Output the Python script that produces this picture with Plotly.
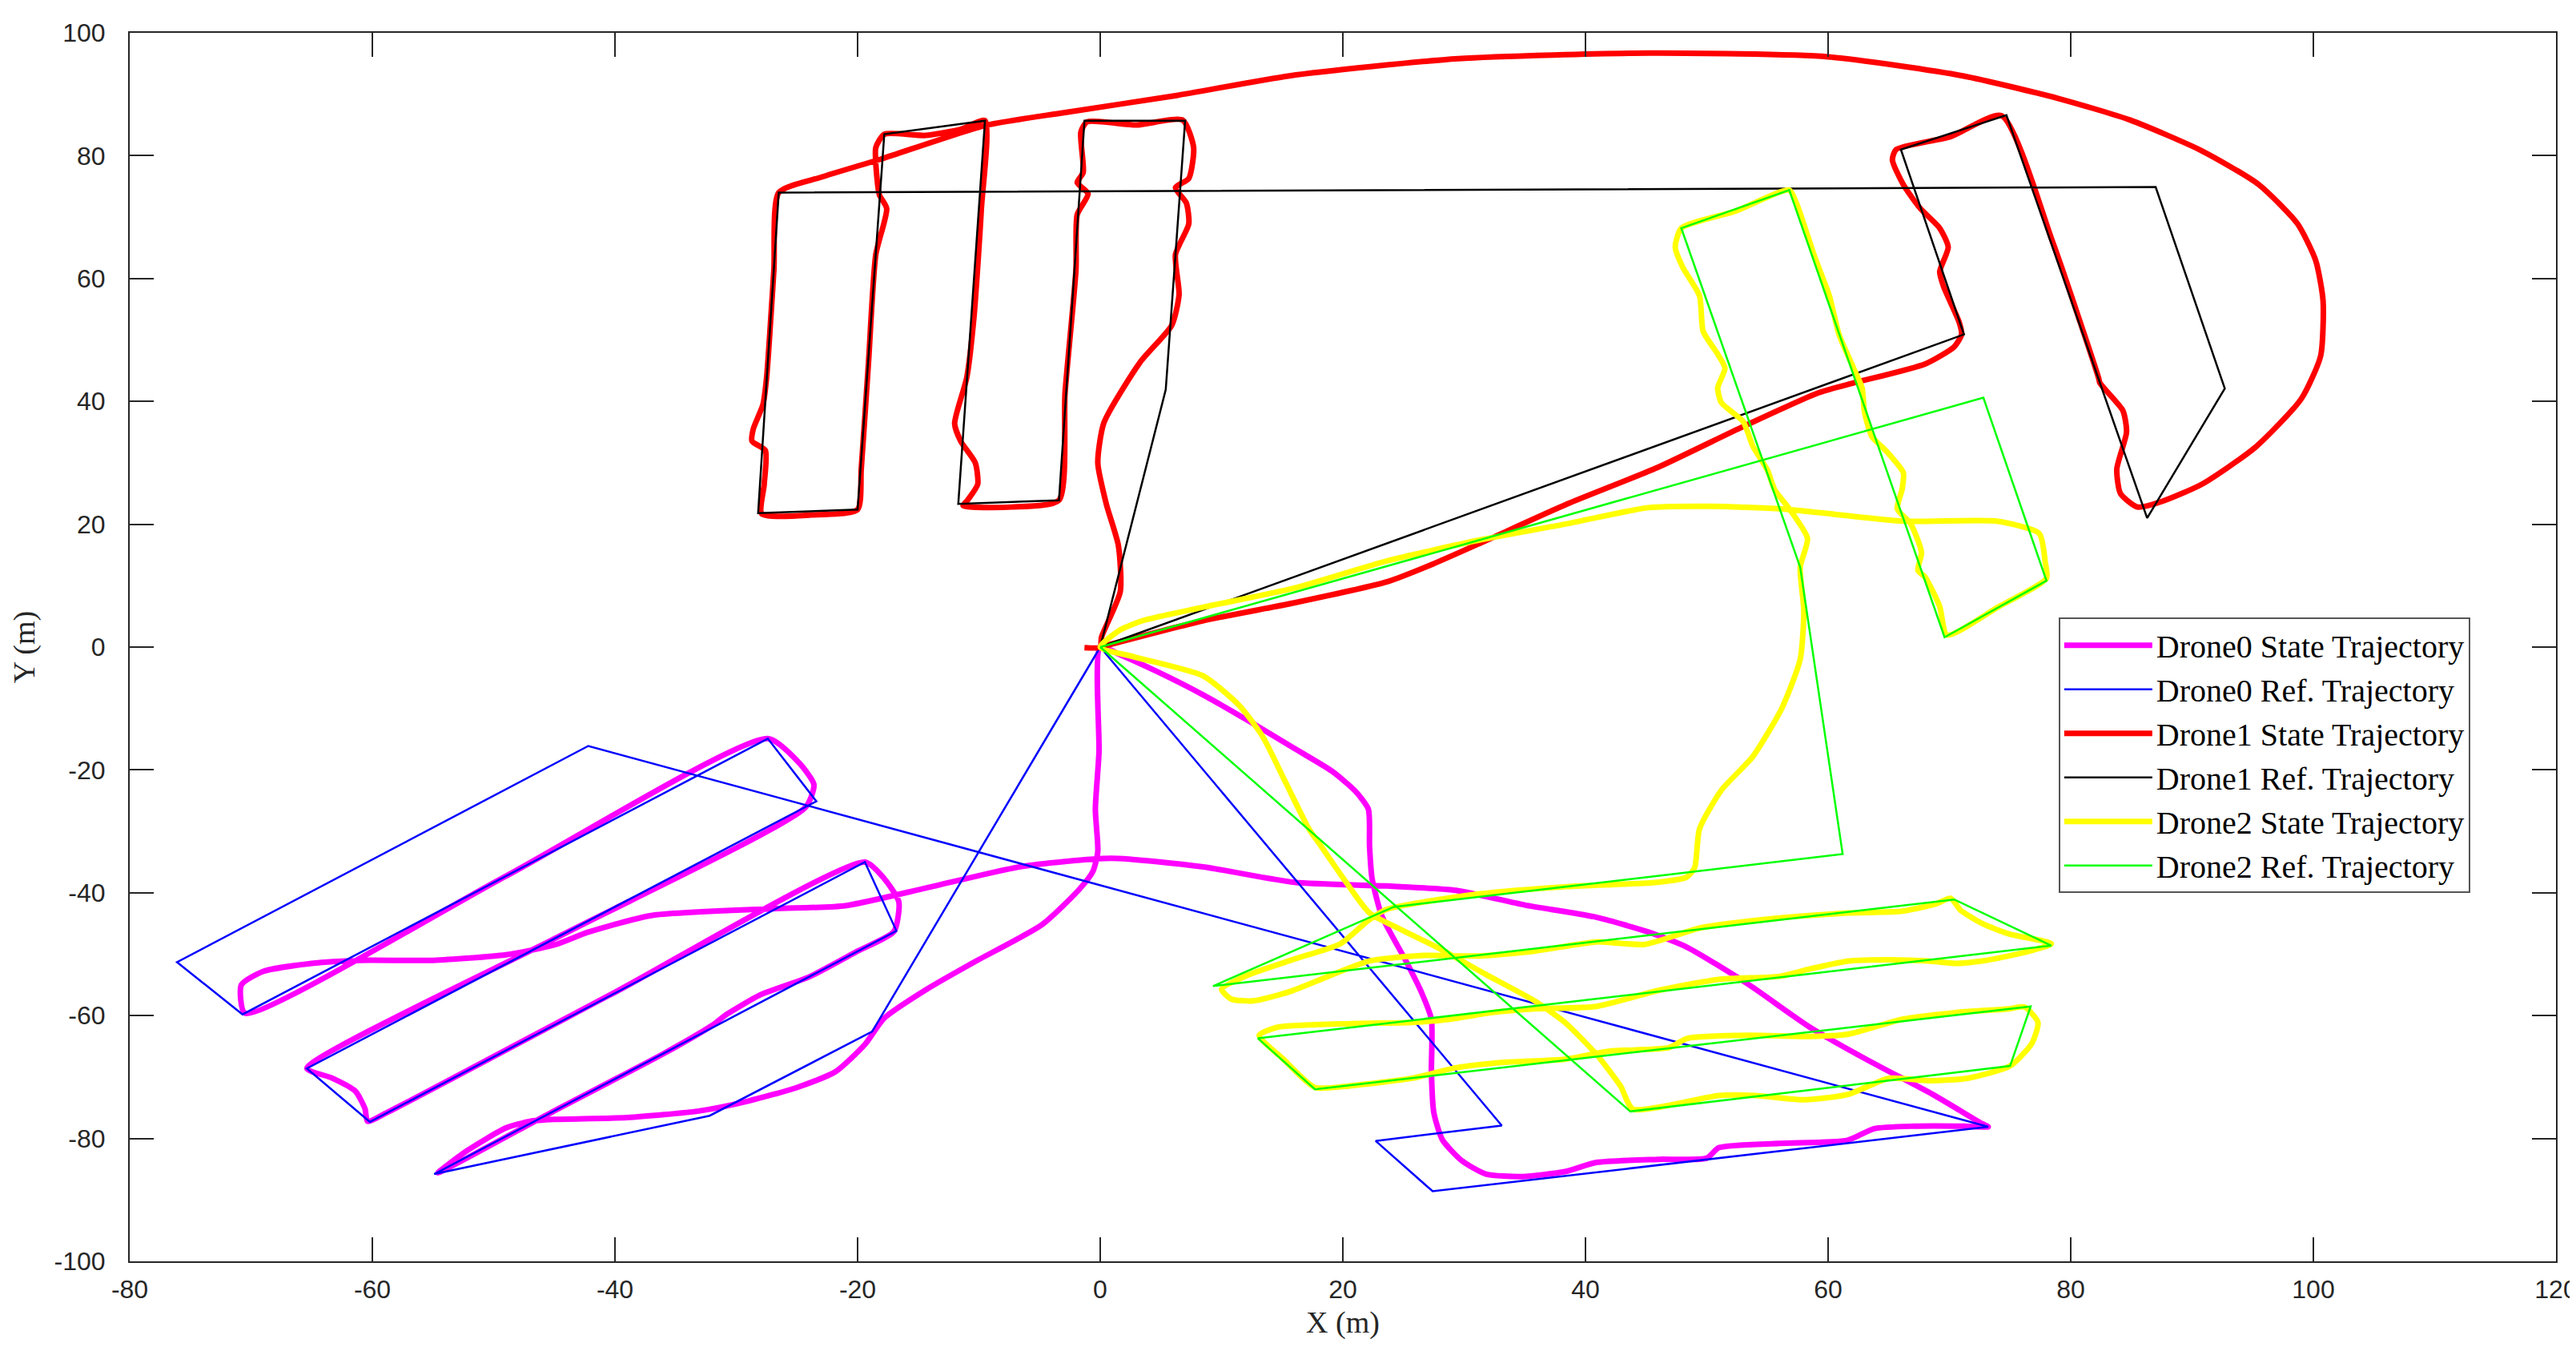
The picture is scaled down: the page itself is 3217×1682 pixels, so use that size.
import plotly.graph_objects as go

# ---- Drone0 (magenta state / blue reference) ----
D0_REF_X = [0, -18.8, -32.2, -54.9, -16.8, -19.4, -60.2, -65.4, -23.4, -27.4, -70.7, -76.1, -42.2, 73.2, 27.4, 22.7, 33.1, 0]
D0_REF_Y = [0, -62.6, -76.3, -85.8, -46.2, -35.0, -77.3, -68.6, -25.1, -14.9, -59.8, -51.3, -16.1, -78.1, -88.6, -80.4, -77.9, 0]

D0_STATE_X = [0, -0.1, -0.4, -0.2, -0.6, -1.8, -4.8, -10.5, -14.3, -17.8, -19.4, -21.8, -25.0, -29.0, -33.0, -39.0,
              -45.0, -47.0, -49.0, -52.2, -54.6, -45.0, -36.0, -32.0, -30.8, -28.0, -24.0, -20.0, -17.0, -16.6, -17.8,
              -19.4, -40.0, -58.8, -60.4, -60.6, -61.4, -63.4, -65.4, -44.4, -24.3, -23.6, -24.8, -27.4, -49.0, -70.5,
              -70.8, -69.0, -65.0, -61.0, -55.0, -49.0, -45.0, -42.2, -37.0, -27.0, -21.0, -14.3, -6.7, 0.9, 8.5, 16.0,
              23.6, 29.3, 35.0, 40.7, 45.2, 48.4, 53.5, 58.5, 63.6, 68.6, 72.7, 73.2, 71.2, 67.1, 63.8, 61.6, 56.0, 51.0,
              50.0, 46.0, 40.9, 38.3, 34.8, 31.8, 29.8, 28.2, 27.5, 27.3, 27.3, 26.5, 25.2, 23.2, 22.4, 22.2, 22.1, 21.0,
              19.1, 16.0, 12.3, 8.5, 4.7, 1.7, 0]
D0_STATE_Y = [0, -17.1, -26.4, -33.3, -36.5, -39.6, -45.2, -51.4, -55.7, -60.4, -64.7, -69.1, -71.7, -73.9, -75.5, -76.6,
              -76.9, -77.2, -78.3, -82.0, -85.6, -75.5, -66.2, -61.6, -59.8, -56.6, -53.7, -49.5, -46.3, -41.5, -37.7,
              -35.0, -56.2, -75.8, -77.2, -75.2, -72.3, -70.1, -68.6, -46.9, -26.1, -22.4, -18.9, -14.9, -37.3, -59.6,
              -55.0, -52.8, -51.5, -51.0, -51.0, -50.1, -48.5, -46.4, -43.7, -42.6, -42.1, -39.2, -35.8, -34.4, -35.8, -38.3,
              -38.9, -39.6, -42.0, -43.9, -46.4, -48.9, -55.0, -61.9, -67.6, -72.8, -77.6, -78.1, -78.0, -78.0, -78.4, -80.3, -80.8, -81.5,
              -83.2, -83.4, -83.9, -85.4, -86.2, -85.8, -83.6, -80.2, -75.8, -69.3, -60.6, -56.3, -51.1, -43.7, -37.6, -32.4, -26.4, -23.4,
              -20.2, -16.5, -12.1, -7.8, -4.0, -1.3, 0]

# ---- Drone1 (red state / black reference) ----
D1_REF_X = [0, 71.2, 66.0, 74.7, 86.3, 92.7, 87.0, -26.5, -28.2, -20.0, -17.8, -9.5, -11.7, -3.4, -1.3, 7.0, 5.4, 0]
D1_REF_Y = [0, 50.9, 81.0, 86.6, 21.0, 42.1, 74.9, 74.0, 21.8, 22.4, 83.5, 85.7, 23.3, 23.9, 85.7, 85.7, 41.9, 0]

D1_STATE_X = [0, 8.5, 16.0, 23.6, 27.4, 31.2, 38.5, 45.9, 53.0, 59.2, 62.1, 68.0, 70.4, 71.0, 70.8, 69.5, 69.2, 69.9,
              69.2, 67.6, 66.2, 65.3, 65.6, 70.1, 74.3, 78.5, 82.3, 82.4, 84.3, 84.6, 83.8, 84.1, 85.5, 87.5, 90.8, 95.2,
              99.0, 100.6, 100.8, 100.2, 98.7, 95.5, 90.8, 84.9, 79.0, 71.1, 60.0, 45.2, 29.5, 15.6, 6.3, -3.0, -9.5,
              -18.0, -23.0, -26.5, -26.9, -27.5, -27.8, -28.6, -28.7, -27.6, -27.7, -27.9, -23.8, -20.0, -19.7, -19.1,
              -18.5, -17.6, -18.2, -18.4, -18.5, -17.8, -14.4, -11.5, -9.5, -9.8, -10.4, -11.0, -12.0, -11.5, -10.3,
              -10.1, -10.9, -11.3, -7.3, -3.4, -2.9, -2.0, -1.9, -1.0, -1.9, -1.4, -1.6, -1.1, 3.0, 6.8, 7.7, 7.3, 6.2,
              7.1, 7.3, 6.2, 6.5, 5.9, 3.3, 0.3, -0.2, 0.5, 1.5, 1.65, 0.1, 0, -1.3]
D1_STATE_Y = [0, 4.3, 7.2, 10.6, 13.5, 16.8, 23.3, 29.2, 35.9, 41.4, 43.0, 46.1, 48.9, 50.9, 52.9, 58.8, 61.1, 65.1,
              68.2, 71.4, 75.3, 79.3, 81.0, 83.1, 86.5, 66.0, 43.8, 43.0, 38.5, 35.0, 29.0, 25.0, 22.8, 23.7, 26.5, 32.5,
              40.4, 47.4, 56.4, 62.9, 68.9, 75.3, 80.8, 85.8, 89.3, 93.0, 96.1, 96.7, 95.8, 93.0, 89.8, 87.0, 84.9,
              79.5, 76.5, 74.0, 61.4, 43.9, 39.5, 35.5, 33.5, 32.0, 26.5, 21.7, 21.5, 22.4, 29.0, 46.4,
              63.9, 71.4, 73.6, 76.3, 81.3, 83.5, 83.3, 84.3, 85.7, 71.3, 53.9, 43.9, 36.4, 33.5, 30.0,
              26.5, 24.0, 23.0, 22.8, 23.9, 41.4, 61.4, 70.4, 73.8, 75.6, 77.3, 83.8, 85.5, 85.0, 85.8, 81.3, 76.3, 74.8,
              72.3, 68.9, 63.9, 57.4, 52.4, 46.4, 36.5, 30.0, 23.3, 16.5, 9.0, 1.6, 0, -0.1]

# ---- Drone2 (yellow state / green reference) ----
D2_REF_X = [0, 72.8, 78.0, 69.6, 56.8, 47.9, 57.7, 61.2, 24.2, 9.3, 70.4, 78.4, 13.0, 17.7, 76.7, 75.0, 43.7, 0]
D2_REF_Y = [0, 40.6, 10.8, 1.6, 74.4, 68.2, 13.0, -33.7, -42.3, -55.2, -41.1, -48.6, -63.7, -72.0, -58.5, -68.2, -75.6, 0]

D2_STATE_X = [0, 1.65, 3.5, 8.5, 16.0, 23.6, 31.2, 38.8, 45.2, 50.3, 56.2, 66.2, 73.9, 77.4, 77.9, 78.0, 74.0, 69.8,
              69.2, 68.0, 67.4, 67.7, 66.8, 65.7, 66.1, 66.2, 64.8, 63.6, 63.0, 62.8, 62.1, 60.9, 60.1, 58.9, 57.4, 56.8,
              52.4, 47.9, 47.4, 48.0, 49.4, 49.7, 50.9, 51.5, 50.9, 51.2, 53.0, 53.8, 55.0, 55.6, 56.8, 58.3, 57.7, 58.0,
              57.7, 56.2, 53.8, 51.2, 49.4, 49.0, 48.3, 45.9, 38.5, 31.2, 23.6, 22.1, 19.8, 16.0, 12.3, 10.0, 10.8, 12.6,
              15.6, 22.2, 26.7, 31.2, 35.8, 40.9, 44.9, 49.5, 56.0, 61.7, 66.1, 68.9, 70.1, 70.9, 72.7, 74.9, 78.4, 76.0,
              72.7, 70.5, 68.3, 65.0, 61.7, 58.5, 56.0, 51.0, 46.0, 40.9, 35.8, 32.3, 28.8, 25.7, 20.7, 14.6, 13.1, 15.1,
              17.7, 20.7, 25.7, 29.3, 33.3, 38.3, 41.9, 46.9, 48.4, 53.5, 58.5, 61.7, 66.1, 70.5, 74.9, 76.2, 77.3, 76.8,
              75.0, 71.5, 68.3, 65.0, 61.7, 58.1, 54.0, 51.0, 43.9, 42.9, 40.9, 38.3, 35.8, 31.8, 27.8, 24.7, 22.2, 20.2,
              18.2, 17.2, 15.3, 13.4, 11.5, 8.5, 2.8, 0]
D2_STATE_Y = [0, 2.8, 4.3, 6.5, 9.6, 14.0, 17.4, 20.2, 22.7, 22.9, 22.5, 20.5, 20.5, 18.5, 13.8, 11.2, 6.5, 1.95,
              6.6, 11.4, 12.5, 15.4, 20.1, 22.5, 25.7, 28.4, 31.9, 34.3, 38.3, 42.2, 45.4, 50.9, 57.2, 63.5, 72.2, 74.4,
              71.0, 68.2, 65.1, 61.9, 57.2, 51.4, 47.7, 45.4, 42.2, 39.8, 36.7, 32.7, 28.8, 25.6, 22.5, 17.7, 13.0, 5.9,
              -2.0, -9.9, -17.8, -23.3, -29.6, -35.9, -37.5, -38.3, -39.0, -40.2, -42.7, -44.5, -48.3, -50.8, -53.3, -55.7, -57.3, -57.6,
              -56.1, -51.1, -50.2, -50.3, -49.5, -48.0, -48.4, -45.7, -44.1, -43.3, -43.0, -41.8, -40.9, -42.8, -45.0, -46.7, -48.3, -49.8,
              -51.1, -51.5, -51.1, -50.9, -51.1, -52.4, -53.6, -54.1, -55.9, -58.5, -58.9, -59.5, -60.6, -61.1, -61.3, -61.9, -63.2, -67.1,
              -71.7, -71.4, -70.2, -68.5, -67.6, -67.1, -65.8, -65.2, -63.7, -63.2, -63.4, -63.0, -60.6, -59.5, -58.9, -58.6, -61.1, -64.5,
              -68.2, -70.2, -70.6, -70.2, -72.8, -73.7, -73.0, -73.0, -75.2, -71.5, -66.3, -61.1, -57.6, -53.3, -48.9, -45.9, -43.3, -38.1,
              -32.4, -29.6, -22.1, -14.6, -9.6, -4.7, -1.6, 0]

X_TICKS = [-80, -60, -40, -20, 0, 20, 40, 60, 80, 100, 120]
X_TICK_TEXT = ["-80", "-60", "-40", "-20", "0", "20", "40", "60", "80", "100", "120"]
Y_TICKS = [-100, -80, -60, -40, -20, 0, 20, 40, 60, 80, 100]
Y_TICK_TEXT = ["-100", "-80", "-60", "-40", "-20", "0", "20", "40", "60", "80", "100"]

TRACES = [
    ("Drone0 State Trajectory", D0_STATE_X, D0_STATE_Y, "#FF00FF", 7, True),
    ("Drone0 Ref. Trajectory", D0_REF_X, D0_REF_Y, "#0000FF", 2.5, False),
    ("Drone1 State Trajectory", D1_STATE_X, D1_STATE_Y, "#FF0000", 7, True),
    ("Drone1 Ref. Trajectory", D1_REF_X, D1_REF_Y, "#000000", 2.5, False),
    ("Drone2 State Trajectory", D2_STATE_X, D2_STATE_Y, "#FFFF00", 7, True),
    ("Drone2 Ref. Trajectory", D2_REF_X, D2_REF_Y, "#00FF00", 2.5, False),
]

AXIS_COLOR = "#262626"
SERIF = "Liberation Serif, Times New Roman, serif"

fig = go.Figure()
for name, xs, ys, color, width, smooth in TRACES:
    line = dict(color=color, width=width)
    if smooth:
        line.update(shape="spline", smoothing=0.6)
    fig.add_trace(go.Scatter(x=xs, y=ys, mode="lines", name=name, line=line))

axis_common = dict(
    showgrid=False, zeroline=False, showline=True, linecolor=AXIS_COLOR, linewidth=2,
    mirror="ticks", ticks="inside", ticklen=30, tickwidth=1.5, tickcolor=AXIS_COLOR,
    tickfont=dict(family="Liberation Sans, Arial, sans-serif", size=32, color=AXIS_COLOR),
    automargin=False,
)

fig.update_layout(
    width=3217, height=1682,
    margin=dict(l=154, r=33, t=33, b=115),
    paper_bgcolor="white", plot_bgcolor="white",
    showlegend=True,
    legend=dict(
        x=0.795, y=0.524, xanchor="left", yanchor="top",
        bgcolor="white", bordercolor="#555555", borderwidth=2,
        font=dict(family=SERIF, size=40, color="black"),
        itemwidth=110, tracegroupgap=0,
    ),
    xaxis=dict(
        range=[-80, 120], tickvals=X_TICKS, ticktext=X_TICK_TEXT, ticklabelstandoff=6,
        title=dict(text="X (m)", standoff=10, font=dict(family=SERIF, size=38, color=AXIS_COLOR)),
        **axis_common,
    ),
    yaxis=dict(
        range=[-100, 100], tickvals=Y_TICKS, ticktext=Y_TICK_TEXT, ticklabelstandoff=22,
        title=dict(text="Y (m)", standoff=12, font=dict(family=SERIF, size=38, color=AXIS_COLOR)),
        **axis_common,
    ),
)

fig.write_html("out.html")
